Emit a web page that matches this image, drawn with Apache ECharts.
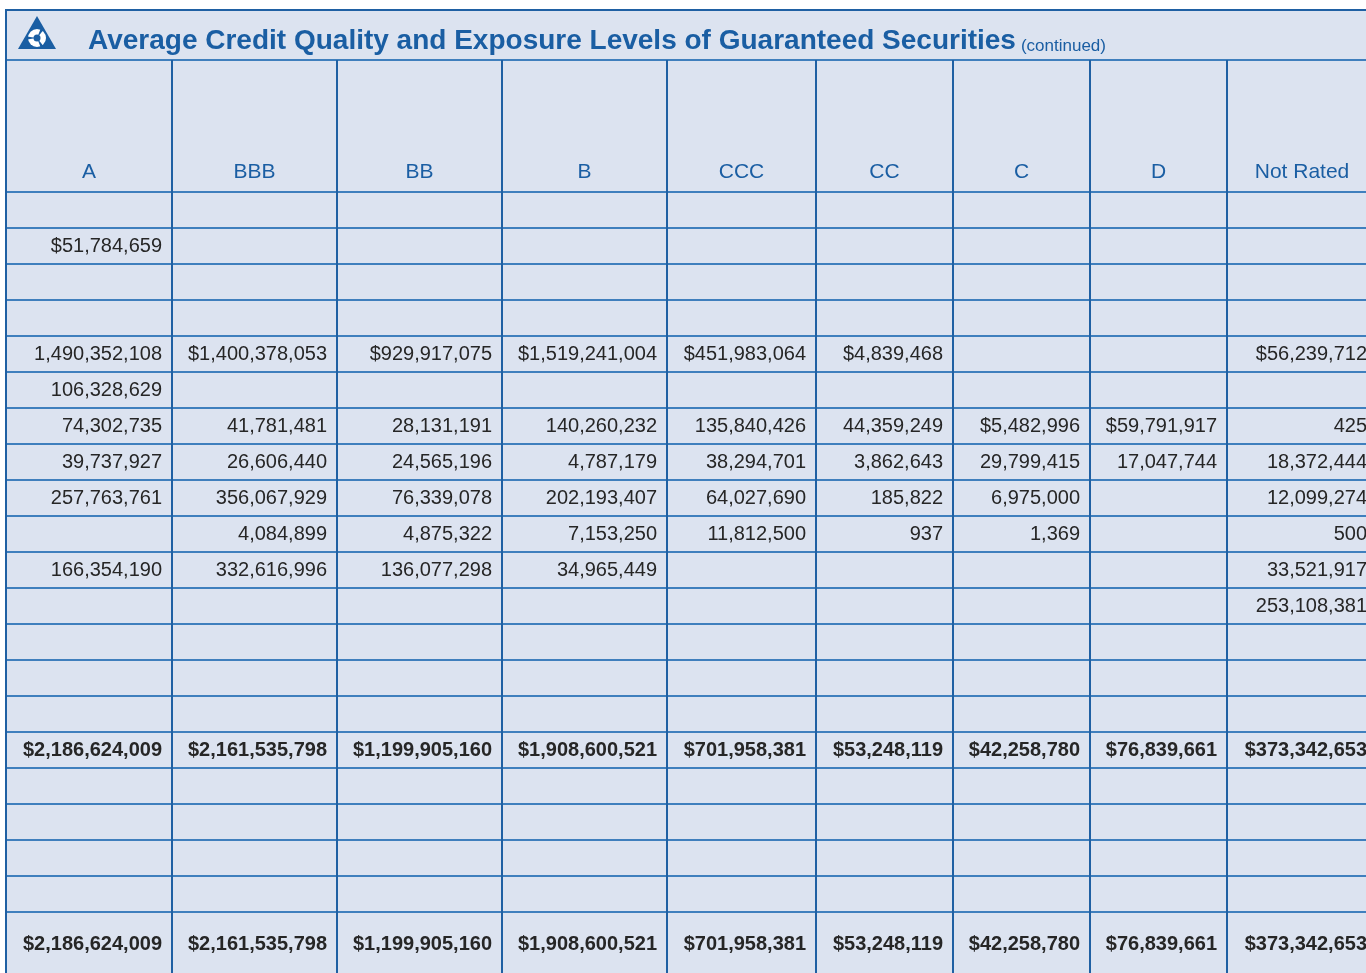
<!DOCTYPE html>
<html>
<head>
<meta charset="utf-8">
<script src="https://cdn.jsdelivr.net/npm/echarts@6/dist/echarts.min.js"></script>
<style>
html,body{margin:0;padding:0;background:#ffffff;overflow:hidden;width:1366px;height:973px;}
#chart{width:1390px;height:990px;}
</style>
</head>
<body>
<div id="chart"></div>
<script>
// ---------- DATA ----------
const titleText = 'Average Credit Quality and Exposure Levels of Guaranteed Securities';
const subtitleText = '(continued)';
const columns = ['A', 'BBB', 'BB', 'B', 'CCC', 'CC', 'C', 'D', 'Not Rated'];
const colA   = [null, 51784659, null, null, 1490352108, 106328629, 74302735, 39737927, 257763761, null, 166354190, null, null, null, null, 2186624009, null, null, null, null, 2186624009];
const colBBB = [null, null, null, null, 1400378053, null, 41781481, 26606440, 356067929, 4084899, 332616996, null, null, null, null, 2161535798, null, null, null, null, 2161535798];
const colBB  = [null, null, null, null, 929917075, null, 28131191, 24565196, 76339078, 4875322, 136077298, null, null, null, null, 1199905160, null, null, null, null, 1199905160];
const colB   = [null, null, null, null, 1519241004, null, 140260232, 4787179, 202193407, 7153250, 34965449, null, null, null, null, 1908600521, null, null, null, null, 1908600521];
const colCCC = [null, null, null, null, 451983064, null, 135840426, 38294701, 64027690, 11812500, null, null, null, null, null, 701958381, null, null, null, null, 701958381];
const colCC  = [null, null, null, null, 4839468, null, 44359249, 3862643, 185822, 937, null, null, null, null, null, 53248119, null, null, null, null, 53248119];
const colC   = [null, null, null, null, null, null, 5482996, 29799415, 6975000, 1369, null, null, null, null, null, 42258780, null, null, null, null, 42258780];
const colD   = [null, null, null, null, null, null, 59791917, 17047744, null, null, null, null, null, null, null, 76839661, null, null, null, null, 76839661];
const colNR  = [null, null, null, null, 56239712, null, 425, 18372444, 12099274, 500, 33521917, 253108381, null, null, null, 373342653, null, null, null, null, 373342653];
const totalRows = [15, 20];

// ---------- LAYOUT (sizes / styles only) ----------
const colWidths = [166, 165, 165, 165, 149, 137, 137, 137, 150];
const titleH = 50, headerH = 132, bodyRowH = 36, lastRowH = 64;
const bg = '#dce3f0';
const hLineColor = '#3f7fbd';
const vLineColor = '#1f60a3';
const blue = '#1a5ea3';
const textColor = '#262626';
const fontFam = 'Liberation Sans';

const dataCols = [colA, colBBB, colBB, colB, colCCC, colCC, colC, colD, colNR];
const nBody = colA.length;
const rowHeights = [titleH, headerH];
for (let i = 0; i < nBody; i++) rowHeights.push(i === nBody - 1 ? lastRowH : bodyRowH);
const yEdges = [0];
rowHeights.forEach(h => yEdges.push(yEdges[yEdges.length - 1] + h));
const xEdges = [0];
colWidths.forEach(w => xEdges.push(xEdges[xEdges.length - 1] + w));
const totalW = xEdges[xEdges.length - 1];
const totalH = yEdges[yEdges.length - 1];

function fmt(v, dollar) {
  const s = v.toString().replace(/\B(?=(\d{3})+(?!\d))/g, ',');
  return (dollar ? '$' : '') + s;
}

const cells = [];
columns.forEach((name, c) => {
  cells.push({ c: c, r: 1, text: name, kind: 'header' });
});
dataCols.forEach((col, c) => {
  let firstSeen = false;
  col.forEach((v, i) => {
    if (v === null) return;
    const isTotal = totalRows.indexOf(i) >= 0;
    let dollar = isTotal;
    if (!isTotal && !firstSeen) { dollar = true; }
    if (!isTotal) firstSeen = true;
    cells.push({ c: c, r: i + 2, text: fmt(v, dollar), kind: isTotal ? 'total' : 'value' });
  });
});

const hLines = [];
for (let k = 0; k < yEdges.length; k++) hLines.push([k]);
const vLines = [];
for (let k = 0; k < xEdges.length; k++) vLines.push([k]);

const chart = echarts.init(document.getElementById('chart'), null, { renderer: 'canvas' });

const option = {
  animation: false,
  backgroundColor: '#ffffff',
  title: {
    left: 88,
    top: 23,
    padding: 0,
    text: '{a|' + titleText + '} {b|' + subtitleText + '}',
    textStyle: {
      fontWeight: 'normal',
      rich: {
        a: { fontSize: 28, fontWeight: 'bold', color: blue, fontFamily: fontFam, verticalAlign: 'bottom', lineHeight: 32 },
        b: { fontSize: 17, fontWeight: 'normal', color: blue, fontFamily: fontFam, verticalAlign: 'bottom', lineHeight: 29 }
      }
    }
  },
  grid: {
    left: 6, top: 10, width: totalW, height: totalH,
    show: true, backgroundColor: bg, borderWidth: 0
  },
  xAxis: { type: 'value', min: 0, max: totalW, show: false },
  yAxis: { type: 'value', min: 0, max: totalH, inverse: true, show: false },
  graphic: [
    {
      type: 'group', left: 18, top: 16, z: 100,
      children: [
        { type: 'polygon', shape: { points: [[19, 0], [0, 33], [38, 33]] }, style: { fill: blue } },
        { type: 'circle', shape: { cx: 19, cy: 22, r: 9 }, style: { fill: '#ffffff' } },
        { type: 'circle', shape: { cx: 19, cy: 22, r: 3.5 }, style: { fill: blue } },
        { type: 'sector', shape: { cx: 19, cy: 22, r0: 2, r: 10, startAngle: -1.2, endAngle: -0.9 }, style: { fill: blue } },
        { type: 'sector', shape: { cx: 19, cy: 22, r0: 2, r: 10, startAngle: 0.9, endAngle: 1.2 }, style: { fill: blue } },
        { type: 'sector', shape: { cx: 19, cy: 22, r0: 2, r: 10, startAngle: 3.0, endAngle: 3.3 }, style: { fill: blue } }
      ]
    }
  ],
  series: [
    {
      type: 'custom', name: 'hlines', z: 2, clip: false, silent: true,
      data: hLines,
      renderItem: function (params, api) {
        const k = api.value(0);
        const p1 = api.coord([0, yEdges[k]]);
        const p2 = api.coord([totalW, yEdges[k]]);
        const y = Math.round(p1[1]);
        return {
          type: 'line',
          shape: { x1: p1[0] - 1, y1: y, x2: p2[0], y2: y },
          style: { stroke: k === 0 ? vLineColor : hLineColor, lineWidth: 2 }
        };
      }
    },
    {
      type: 'custom', name: 'vlines', z: 3, clip: false, silent: true,
      data: vLines,
      renderItem: function (params, api) {
        const k = api.value(0);
        const yStart = k === 0 ? 0 : yEdges[1];
        const p1 = api.coord([xEdges[k], yStart]);
        const p2 = api.coord([xEdges[k], totalH]);
        const x = Math.round(p1[0]);
        return {
          type: 'line',
          shape: { x1: x, y1: p1[1] - (k === 0 ? 1 : 0), x2: x, y2: p2[1] },
          style: { stroke: vLineColor, lineWidth: 2 }
        };
      }
    },
    {
      type: 'custom', name: 'cells', z: 5, clip: false, silent: true,
      data: cells.map(d => [d.c, d.r]),
      renderItem: function (params, api) {
        const cell = cells[params.dataIndex];
        const c = api.value(0), r = api.value(1);
        const tl = api.coord([xEdges[c], yEdges[r]]);
        const br = api.coord([xEdges[c + 1], yEdges[r + 1]]);
        if (cell.kind === 'header') {
          return {
            type: 'text',
            style: {
              text: cell.text, x: (tl[0] + br[0]) / 2, y: br[1] - 20,
              align: 'center', verticalAlign: 'middle',
              fill: blue, fontFamily: fontFam, fontSize: 21
            }
          };
        }
        return {
          type: 'text',
          style: {
            text: cell.text, x: br[0] - 10, y: (tl[1] + br[1]) / 2,
            align: 'right', verticalAlign: 'middle',
            fill: textColor, fontFamily: fontFam, fontSize: 20,
            fontWeight: cell.kind === 'total' ? 'bold' : 'normal'
          }
        };
      }
    }
  ]
};
chart.setOption(option);
</script>
</body>
</html>
